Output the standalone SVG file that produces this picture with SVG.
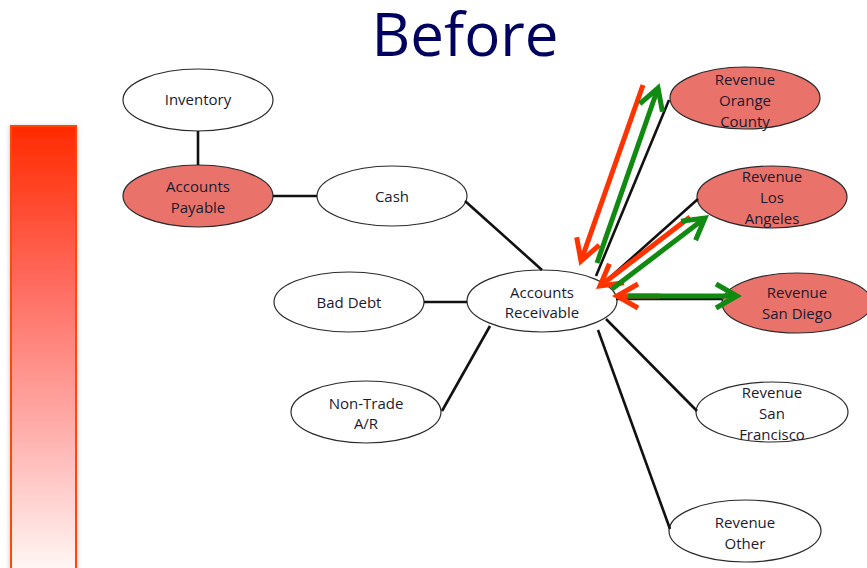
<svg xmlns="http://www.w3.org/2000/svg" width="867" height="568" viewBox="0 0 867 568">
  <style>
    .node ellipse { stroke: #2a2a2a; stroke-width: 1.2; }
    .plain ellipse { fill: #ffffff; }
    .hot ellipse { fill: #e9736a; }
    .node text { font-family: "Open Sans", "Liberation Sans", sans-serif; font-size: 15px; fill: #1a1a30; text-anchor: middle; }
    .link { stroke: #111111; stroke-width: 2.6; fill: none; }
    .red { stroke: #ff3300; stroke-width: 5; fill: none; marker-end: url(#headRed); }
    .green { stroke: #118a11; stroke-width: 5; fill: none; marker-end: url(#headGreen); }
    .title { font-family: "Open Sans", "Liberation Sans", sans-serif; font-size: 60px; fill: #00005e; text-anchor: middle; }
  </style>
  <defs>
    <linearGradient id="barFill" x1="0" y1="0" x2="0" y2="1">
      <stop offset="0" stop-color="#ff2a00"/>
      <stop offset="0.35" stop-color="#ff6a5e"/>
      <stop offset="0.7" stop-color="#ffb2b0"/>
      <stop offset="1" stop-color="#fff8f6"/>
    </linearGradient>
    <filter id="barShadow" x="-20%" y="-5%" width="140%" height="110%">
      <feGaussianBlur in="SourceAlpha" stdDeviation="2.5"/>
      <feOffset dx="0" dy="1" result="b"/>
      <feComponentTransfer><feFuncA type="linear" slope="0.25"/></feComponentTransfer>
      <feMerge><feMergeNode/><feMergeNode in="SourceGraphic"/></feMerge>
    </filter>
    <marker id="headRed" markerUnits="userSpaceOnUse" viewBox="-30 -20 40 40" markerWidth="40" markerHeight="40" refX="0" refY="0" orient="auto">
      <path d="M-21,-12 L0,0 L-21,12" fill="none" stroke="#ff3300" stroke-width="5"/>
    </marker>
    <marker id="headGreen" markerUnits="userSpaceOnUse" viewBox="-30 -20 40 40" markerWidth="40" markerHeight="40" refX="0" refY="0" orient="auto">
      <path d="M-21,-12 L0,0 L-21,12" fill="none" stroke="#118a11" stroke-width="5"/>
    </marker>
  </defs>

  <rect width="867" height="568" fill="#ffffff"/>

  <!-- colour scale bar -->
  <rect x="11" y="126" width="65" height="446" fill="url(#barFill)" stroke="#ff4a00" stroke-width="2" filter="url(#barShadow)"/>

  <text class="title" x="465" y="56">Before</text>

  <!-- nodes -->
  <g id="inventory" class="node plain">
    <ellipse cx="198" cy="100" rx="75" ry="31"/>
    <text x="198" y="105">Inventory</text>
  </g>
  <g id="accounts-payable" class="node hot">
    <ellipse cx="198" cy="196" rx="75" ry="31"/>
    <text x="198" y="192">Accounts</text>
    <text x="198" y="213">Payable</text>
  </g>
  <g id="cash" class="node plain">
    <ellipse cx="392" cy="196" rx="75" ry="30"/>
    <text x="392" y="202">Cash</text>
  </g>
  <g id="bad-debt" class="node plain">
    <ellipse cx="349" cy="302" rx="75" ry="30"/>
    <text x="349" y="308">Bad Debt</text>
  </g>
  <g id="accounts-receivable" class="node plain">
    <ellipse cx="542" cy="301" rx="75" ry="31"/>
    <text x="542" y="298">Accounts</text>
    <text x="542" y="318">Receivable</text>
  </g>
  <g id="non-trade-ar" class="node plain">
    <ellipse cx="366" cy="412" rx="75" ry="31"/>
    <text x="366" y="409">Non-Trade</text>
    <text x="366" y="429">A/R</text>
  </g>
  <g id="revenue-orange-county" class="node hot">
    <ellipse cx="745" cy="98" rx="75" ry="31"/>
    <text x="745" y="85">Revenue</text>
    <text x="745" y="106">Orange</text>
    <text x="745" y="127">County</text>
  </g>
  <g id="revenue-los-angeles" class="node hot">
    <ellipse cx="772" cy="197" rx="75" ry="31"/>
    <text x="772" y="182">Revenue</text>
    <text x="772" y="203">Los</text>
    <text x="772" y="224">Angeles</text>
  </g>
  <g id="revenue-san-diego" class="node hot">
    <ellipse cx="797" cy="303" rx="75" ry="30"/>
    <text x="797" y="298">Revenue</text>
    <text x="797" y="319">San Diego</text>
  </g>
  <g id="revenue-san-francisco" class="node plain">
    <ellipse cx="772" cy="412" rx="76" ry="30"/>
    <text x="772" y="398">Revenue</text>
    <text x="772" y="419">San</text>
    <text x="772" y="440">Francisco</text>
  </g>
  <g id="revenue-other" class="node plain">
    <ellipse cx="745" cy="531" rx="76" ry="31"/>
    <text x="745" y="528">Revenue</text>
    <text x="745" y="549">Other</text>
  </g>

  <!-- connectors, drawn over the nodes so arrowheads stay visible -->
  <g id="connectors">
    <line class="link" x1="198" y1="131" x2="198" y2="165"/>
    <line class="link" x1="273" y1="196" x2="317" y2="196"/>
    <line class="link" x1="465" y1="201" x2="542" y2="270"/>
    <line class="link" x1="424" y1="302" x2="467" y2="302"/>
    <line class="link" x1="442" y1="411" x2="490" y2="326"/>
    <line class="link" x1="596" y1="276" x2="669" y2="100"/>
    <line class="link" x1="607" y1="280" x2="698" y2="199"/>
    <line class="link" x1="616" y1="299" x2="722" y2="299"/>
    <line class="link" x1="606" y1="319" x2="697" y2="411"/>
    <line class="link" x1="598" y1="330" x2="670" y2="529"/>

    <!-- flow arrows -->
    <line class="red" x1="643" y1="85" x2="581" y2="261"/>
    <line class="red" x1="690" y1="217" x2="600" y2="286"/>
    <line class="red" x1="660" y1="296" x2="617" y2="296"/>
    <line class="green" x1="597" y1="263" x2="658" y2="88"/>
    <line class="green" x1="612" y1="289" x2="705" y2="218"/>
    <line class="green" x1="628" y1="296" x2="737" y2="296"/>
  </g>
</svg>
